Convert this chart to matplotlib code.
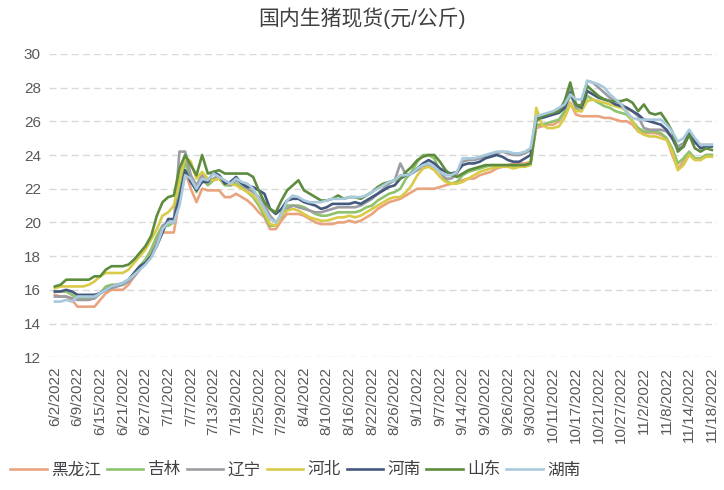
import matplotlib
matplotlib.use("Agg")
import matplotlib.pyplot as plt
import pandas as pd

plt.rcParams['font.family'] = ['Liberation Sans', 'Noto Sans CJK SC', 'DejaVu Sans']

# trading days of the spot series (Chinese workdays)
holidays = pd.to_datetime(["2022-06-03", "2022-09-12", "2022-10-03", "2022-10-04",
                           "2022-10-05", "2022-10-06", "2022-10-07"])
makeup = pd.to_datetime(["2022-10-08", "2022-10-09"])
days = pd.bdate_range("2022-06-02", "2022-11-18")
days = days[~days.isin(holidays)].union(makeup)
dates = [f"{d.month}/{d.day}/{d.year}" for d in days]

heilongjiang = [15.7, 15.6, 15.6, 15.4, 15.0, 15.0, 15.0, 15.0, 15.4, 15.8,
                16.0, 16.0, 16.0, 16.3, 16.8, 17.2, 17.6, 18.2, 19.0, 19.4,
                19.4, 19.4, 21.4, 23.0, 22.0, 21.2, 22.0, 21.9, 21.9, 21.9,
                21.5, 21.5, 21.7, 21.5, 21.3, 21.0, 20.6, 20.3, 19.6, 19.6,
                20.1, 20.5, 20.5, 20.5, 20.4, 20.2, 20.0, 19.9, 19.9, 19.9,
                20.0, 20.0, 20.1, 20.0, 20.1, 20.3, 20.5, 20.8, 21.0, 21.2,
                21.3, 21.4, 21.6, 21.8, 22.0, 22.0, 22.0, 22.0, 22.1, 22.2,
                22.3, 22.4, 22.5, 22.6, 22.6, 22.8, 22.9, 23.0, 23.2, 23.3,
                23.4, 23.5, 23.5, 23.5, 23.6, 25.6, 25.7, 25.8, 25.8, 26.0,
                26.5, 27.1, 26.4, 26.3, 26.3, 26.3, 26.3, 26.2, 26.2, 26.1,
                26.0, 26.0, 25.8, 25.4, 25.3, 25.3, 25.3, 25.2, 25.0, 24.0,
                23.2, 23.6, 24.1, 23.8, 23.8, 24.0, 24.0]
jilin = [15.9, 15.9, 15.9, 15.7, 15.5, 15.5, 15.5, 15.5, 15.8, 16.2,
         16.3, 16.3, 16.3, 16.5, 17.0, 17.4, 17.8, 18.4, 19.2, 19.8,
         19.8, 20.0, 21.8, 23.6, 22.6, 21.8, 22.6, 22.2, 22.5, 22.6,
         22.2, 22.2, 22.3, 22.1, 21.8, 21.5, 21.0, 20.4, 19.8, 19.8,
         20.6, 21.0, 21.0, 21.0, 20.9, 20.7, 20.5, 20.4, 20.4, 20.5,
         20.6, 20.6, 20.6, 20.6, 20.7, 20.9, 21.0, 21.3, 21.5, 21.7,
         21.8, 22.0, 22.6, 23.0, 23.6, 24.0, 24.0, 23.8, 23.0, 22.5,
         22.3, 22.4, 22.8, 23.0, 23.1, 23.2, 23.3, 23.4, 23.4, 23.4,
         23.4, 23.3, 23.3, 23.4, 23.5, 25.8, 25.8, 25.9, 26.0, 26.1,
         26.6, 27.6, 26.8, 26.6, 27.5, 27.3, 27.1, 26.9, 26.8, 26.6,
         26.5, 26.4, 26.0, 25.6, 25.4, 25.4, 25.4, 25.3, 25.0, 24.4,
         23.5, 23.8, 24.2, 23.8, 23.8, 24.0, 24.0]
liaoning = [15.6, 15.6, 15.6, 15.5, 15.4, 15.4, 15.4, 15.5, 15.8, 16.0,
            16.1, 16.2, 16.3, 16.5, 16.8, 17.2, 17.6, 18.0, 18.8, 19.8,
            20.0, 20.0, 24.2, 24.2, 22.8, 22.2, 22.8, 22.4, 22.6, 22.8,
            22.4, 22.2, 22.5, 22.3, 22.0, 21.8, 21.5, 21.0, 20.4, 20.0,
            20.3, 20.8, 21.0, 20.9, 20.8, 20.7, 20.6, 20.6, 20.7, 20.8,
            20.9, 20.9, 20.9, 20.9, 21.0, 21.2, 21.4, 21.7, 22.0, 22.3,
            22.5, 23.5, 22.8, 22.9, 23.1, 23.3, 23.4, 23.3, 23.0, 22.6,
            22.6, 22.9, 23.6, 23.7, 23.7, 23.8, 23.9, 24.0, 24.1, 24.2,
            24.1, 24.0, 24.0, 24.1, 24.3, 26.2, 26.3, 26.4, 26.5, 26.6,
            27.0, 27.9, 26.8, 27.0, 28.4, 28.3, 28.0, 27.7, 27.4, 27.2,
            27.0, 26.8, 26.6, 26.3, 25.6, 25.5, 25.5, 25.5, 25.4, 25.0,
            24.5, 24.7, 25.3, 24.7, 24.6, 24.6, 24.6]
hebei = [16.1, 16.2, 16.2, 16.2, 16.2, 16.2, 16.3, 16.5, 16.8, 17.0,
         17.0, 17.0, 17.0, 17.2, 17.6, 18.0, 18.4, 19.0, 19.6, 20.4,
         20.6, 21.0, 22.5, 23.9, 23.6, 22.6, 23.0, 22.6, 22.5, 22.6,
         22.3, 22.3, 22.2, 22.0, 21.8, 21.6, 21.2, 20.6, 19.9, 19.8,
         20.4, 20.7, 20.8, 20.7, 20.5, 20.3, 20.2, 20.1, 20.1, 20.2,
         20.3, 20.3, 20.4, 20.3, 20.4, 20.6, 20.8, 21.0, 21.2, 21.4,
         21.5, 21.5, 21.8, 22.2, 22.8, 23.2, 23.3, 23.1, 22.7, 22.4,
         22.3, 22.3, 22.4, 22.6, 22.8, 23.0, 23.1, 23.2, 23.3, 23.3,
         23.3, 23.2, 23.3, 23.3, 23.4, 26.8, 25.8, 25.6, 25.6, 25.7,
         26.2, 27.0, 26.6, 26.6, 27.2, 27.3, 27.2, 27.1, 27.0, 26.9,
         26.8, 26.6, 26.0, 25.4, 25.2, 25.1, 25.1, 25.0, 24.9, 24.2,
         23.1, 23.4, 24.0, 23.7, 23.7, 23.9, 23.9]
henan = [15.9, 15.9, 16.0, 15.9, 15.7, 15.7, 15.7, 15.7, 15.8, 16.0,
         16.2, 16.3, 16.4, 16.6, 17.0, 17.4, 17.6, 18.0, 18.6, 19.4,
         20.2, 20.2, 21.5, 23.1, 22.4, 21.9, 22.4, 22.4, 23.0, 22.8,
         22.3, 22.4, 22.7, 22.3, 22.1, 22.1, 21.9, 21.7, 20.8, 20.5,
         20.8, 21.3, 21.4, 21.4, 21.2, 21.1, 21.0, 20.8, 20.9, 21.1,
         21.1, 21.1, 21.1, 21.2, 21.1, 21.3, 21.5, 21.7, 21.9, 22.1,
         22.2, 22.6, 22.8, 22.9, 23.2, 23.5, 23.7, 23.5, 23.2, 23.0,
         22.9, 23.0, 23.4, 23.5, 23.5, 23.6, 23.8, 23.9, 24.0, 23.9,
         23.7, 23.6, 23.6, 23.8, 24.0, 26.2, 26.2, 26.3, 26.4, 26.5,
         26.8, 27.7, 27.0, 26.8, 27.8, 27.6, 27.4, 27.3, 27.2, 27.0,
         26.9, 26.8, 26.6, 26.4, 26.1, 26.0, 25.9, 25.8, 25.5, 25.0,
         24.3, 24.5, 25.3, 24.8, 24.4, 24.5, 24.5]
shandong = [16.2, 16.3, 16.6, 16.6, 16.6, 16.6, 16.6, 16.8, 16.8, 17.2,
            17.4, 17.4, 17.4, 17.5, 17.8, 18.2, 18.6, 19.2, 20.4, 21.2,
            21.5, 21.6, 23.2, 24.0, 23.4, 22.8, 24.0, 22.9, 23.0, 23.1,
            22.9, 22.9, 22.9, 22.9, 22.9, 22.7, 21.9, 21.2, 20.8, 20.6,
            21.3, 21.9, 22.2, 22.5, 21.9, 21.7, 21.5, 21.3, 21.3, 21.4,
            21.6, 21.4, 21.5, 21.5, 21.4, 21.6, 21.8, 22.1, 22.3, 22.4,
            22.5, 22.6, 23.0, 23.3, 23.7, 23.9, 24.0, 24.0, 23.6, 23.1,
            22.8, 22.7, 22.9, 23.1, 23.2, 23.3, 23.4, 23.4, 23.4, 23.4,
            23.4, 23.4, 23.4, 23.4, 23.5, 26.0, 26.3, 26.4, 26.5, 26.6,
            27.2, 28.3, 27.0, 26.9, 28.1, 27.8, 27.5, 27.3, 27.2, 27.2,
            27.2, 27.3, 27.1, 26.6, 27.0, 26.5, 26.4, 26.5, 26.0, 25.4,
            24.2, 24.5, 25.2, 24.4, 24.2, 24.4, 24.3]
hunan = [15.3, 15.3, 15.4, 15.3, 15.6, 15.6, 15.6, 15.6, 15.8, 16.0,
         16.2, 16.3, 16.4, 16.6, 16.9, 17.2, 17.5, 17.9, 18.6, 19.6,
         20.0, 20.0, 21.0, 22.8, 22.6, 22.0, 22.6, 22.5, 22.9, 22.7,
         22.5, 22.3, 22.6, 22.4, 22.3, 22.0, 21.4, 20.8, 20.2, 20.0,
         20.5, 21.3, 21.6, 21.5, 21.3, 21.2, 21.2, 21.2, 21.3, 21.4,
         21.4, 21.4, 21.5, 21.5, 21.5, 21.6, 21.8, 22.0, 22.2, 22.4,
         22.5, 22.8, 22.8, 22.9, 23.2, 23.4, 23.5, 23.3, 23.0, 22.8,
         22.8, 23.0, 23.8, 23.8, 23.8, 23.9, 24.0, 24.1, 24.2, 24.2,
         24.2, 24.1, 24.1, 24.2, 24.4, 26.3, 26.4, 26.5, 26.6, 26.8,
         27.0, 27.6, 27.3, 27.3, 28.4, 28.3, 28.2, 28.0, 27.6, 27.3,
         27.0, 26.5, 26.2, 26.1, 26.1, 26.1, 26.1, 26.1, 25.8, 25.4,
         24.8, 25.0, 25.5, 25.0, 24.6, 24.6, 24.6]

series = [("黑龙江", heilongjiang, "#E9A47F"),
          ("吉林", jilin, "#8DC36B"),
          ("辽宁", liaoning, "#9C9CA2"),
          ("河北", hebei, "#D9CB48"),
          ("河南", henan, "#45597F"),
          ("山东", shandong, "#5E8C3E"),
          ("湖南", hunan, "#A9CADD")]

fig = plt.figure(figsize=(7.24, 4.9), dpi=100)
ax = fig.add_axes([0.068, 0.271, 0.923, 0.619])

x = list(range(len(dates)))
for name, vals, col in series:
    ax.plot(x, vals, color=col, lw=1.9, label=name, solid_joinstyle="round")

ax.set_ylim(12, 30)
ax.set_yticks(range(12, 31, 2))
ax.set_xlim(-1, len(dates))
ax.set_xticks(x[::4])
ax.set_xticklabels(dates[::4], rotation=90)
ax.tick_params(axis="both", length=0, labelsize=11, colors="#595959")
ax.tick_params(axis="x", pad=7)
ax.tick_params(axis="y", pad=6)
ax.grid(axis="y", color="#D9D9D9", ls=(0, (5, 3)), lw=1)
ax.set_axisbelow(True)
for s in ax.spines.values():
    s.set_visible(False)

fig.suptitle("国内生猪现货(元/公斤)", y=0.985, fontsize=15, color="#404040")

fig.legend(loc="lower left", bbox_to_anchor=(0.005, 0.012), ncol=7, frameon=False,
           fontsize=12, handlelength=2.2, handletextpad=0.25, columnspacing=0.35,
           labelcolor="#404040", borderaxespad=0)

fig.savefig("out.png", dpi=100)
